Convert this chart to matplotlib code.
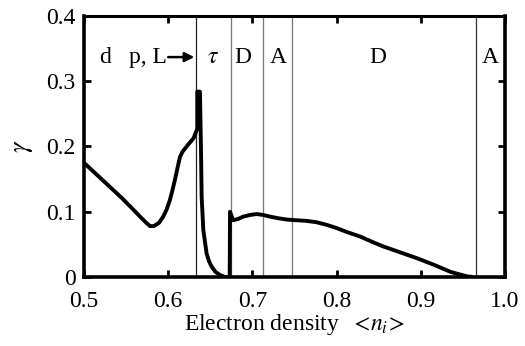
"""
Growth rate gamma vs electron density, with phase boundaries.
"""
import matplotlib
matplotlib.use("Agg")
import matplotlib.pyplot as plt

# %% Data
density = [0.500, 0.515, 0.530, 0.545, 0.558, 0.567, 0.574, 0.5784, 0.583,
           0.589, 0.594, 0.598, 0.602, 0.605, 0.608, 0.611, 0.614, 0.617,
           0.620, 0.625, 0.630, 0.6345, 0.6345, 0.6377, 0.639, 0.6397,
           0.6417, 0.6456, 0.6485, 0.6515, 0.656, 0.6615, 0.6675, 0.6730,
           0.6734, 0.677, 0.683, 0.689, 0.697, 0.705, 0.713, 0.721, 0.731,
           0.741, 0.752, 0.764, 0.776, 0.788, 0.800, 0.812, 0.828, 0.842,
           0.855, 0.875, 0.895, 0.915, 0.935, 0.946, 0.955, 0.962]
gamma = [0.175, 0.157, 0.139, 0.121, 0.104, 0.092, 0.083, 0.078, 0.078,
         0.083, 0.0925, 0.103, 0.118, 0.133, 0.149, 0.167, 0.184, 0.192,
         0.197, 0.205, 0.2125, 0.227, 0.284, 0.284, 0.190, 0.123,
         0.072, 0.036, 0.024, 0.016, 0.008, 0.003, 0.000, 0.000,
         0.100, 0.087, 0.089, 0.0925, 0.095, 0.0965, 0.095, 0.0925, 0.090,
         0.088, 0.087, 0.086, 0.084, 0.080, 0.075, 0.069, 0.062, 0.054,
         0.047, 0.038, 0.029, 0.019, 0.008, 0.004, 0.001, 0.000]

boundaries = [0.633, 0.6746, 0.712, 0.7466, 0.966]
boundary_colors = ["#222222", "#777777", "#777777", "#777777", "#333333"]

phase_labels = ["d", "p, L", r"$\tau$", "D", "A", "D", "A"]
phase_x = [0.525, 0.5754, 0.653, 0.689, 0.7306, 0.849, 0.982]
phase_y = 0.337

xticks = [0.5, 0.6, 0.7, 0.8, 0.9, 1.0]
xticklabels = ["0.5", "0.6", "0.7", "0.8", "0.9", "1.0"]
yticks = [0, 0.1, 0.2, 0.3, 0.4]
yticklabels = ["0", "0.1", "0.2", "0.3", "0.4"]

# %% Style
plt.rcParams["font.family"] = ["Liberation Serif", "DejaVu Serif"]
plt.rcParams["mathtext.fontset"] = "stix"
FS = 17

fig = plt.figure(figsize=(5.25, 3.46), dpi=100)
ax = fig.add_axes([0.16, 0.1994, 0.802, 0.7544])

for xb, cb in zip(boundaries, boundary_colors):
    ax.axvline(xb, color=cb, lw=0.9, zorder=1)

ax.plot(density, gamma, color="k", lw=2.8, solid_joinstyle="round",
        solid_capstyle="butt", zorder=3)

for lab, xl in zip(phase_labels, phase_x):
    ax.text(xl, phase_y, lab, ha="center", va="center", fontsize=FS)

ax.annotate("", xy=(0.631, 0.337), xytext=(0.600, 0.337),
            arrowprops=dict(arrowstyle="-|>", color="k", lw=1.8,
                            mutation_scale=14, shrinkA=0, shrinkB=0))

# Format axes
ax.set_xlim(0.5, 1.0)
ax.set_ylim(0, 0.4)
ax.set_xticks(xticks, xticklabels)
ax.set_yticks(yticks, yticklabels)
ax.tick_params(direction="in", length=5, width=2, labelsize=FS,
               top=True, right=True)
ax.tick_params(axis="x", pad=10)
ax.tick_params(axis="y", pad=6)
for side in ["left", "bottom", "right"]:
    ax.spines[side].set_linewidth(2.6)
ax.spines["top"].set_linewidth(2.2)

ax.set_xlabel(r"Electron density  $<\!n_i\!>$", fontsize=FS, labelpad=0)
ax.set_ylabel(r"$\gamma$", fontsize=FS + 2, labelpad=8)

fig.savefig("out.png", dpi=100)
